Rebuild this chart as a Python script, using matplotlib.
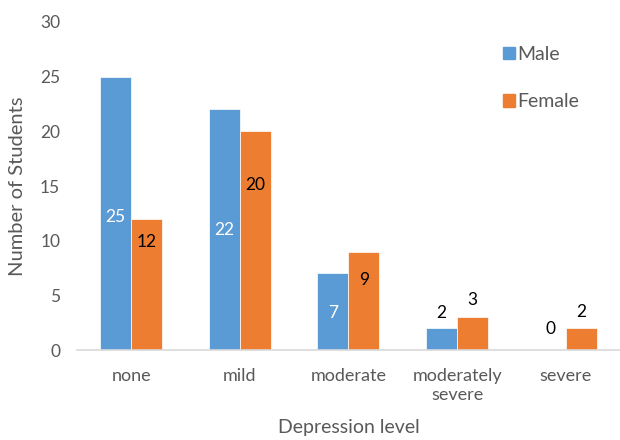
import numpy as np
import matplotlib.pyplot as plt
from matplotlib.patches import Patch

plt.rcParams['font.family'] = ['Lato', 'DejaVu Sans']

categories = ['none', 'mild', 'moderate', 'moderately\nsevere', 'severe']
male = [25, 22, 7, 2, 0]
female = [12, 20, 9, 3, 2]
# label heights as placed in the original (Excel-like manual positions)
male_label_y = [12.2, 11, 3.4, 3.4, 1.9]
female_label_y = [9.9, 15.1, 6.4, 4.6, 3.5]

blue = '#5B9BD5'
orange = '#ED7D31'
grey = '#595959'

fig = plt.figure(figsize=(6.2, 4.4), dpi=100)
ax = fig.add_axes([0.124, 0.2045, 0.876, 0.7455])

x = np.arange(len(categories))
w = 0.285
ax.bar(x - w / 2, male, w, color=blue, edgecolor='white', linewidth=0.5)
ax.bar(x + w / 2, female, w, color=orange, edgecolor='white', linewidth=0.5)

for i in range(len(categories)):
    # male labels: white inside the bar, dark when the bar is too short
    col = 'white' if male[i] >= 5 else 'black'
    ax.text(x[i] - w / 2, male_label_y[i], str(male[i]), ha='center', va='center',
            color=col, fontsize=12.5)
    ax.text(x[i] + w / 2, female_label_y[i], str(female[i]), ha='center', va='center',
            color='black', fontsize=12.5)

ax.set_xlim(-0.5, 4.5)
ax.set_ylim(0, 30)
ax.set_yticks(range(0, 31, 5))
ax.set_xticks(x)
ax.set_xticklabels(categories, fontsize=13, color=grey, linespacing=1.2)
ax.tick_params(axis='y', length=0, labelsize=12.5, labelcolor=grey, pad=12)
ax.tick_params(axis='x', length=0, pad=13)
for s in ['top', 'right', 'left']:
    ax.spines[s].set_visible(False)
ax.spines['bottom'].set_color('#D9D9D9')
ax.spines['bottom'].set_linewidth(1.2)

ax.set_ylabel('Number of Students', fontsize=14.5, color=grey, labelpad=10)
ax.set_xlabel('Depression level', fontsize=14, color=grey, labelpad=12)

handles = [Patch(color=blue), Patch(color=orange)]
fig.legend(handles, ['Male', 'Female'], loc='upper left', bbox_to_anchor=(0.783, 0.935),
           frameon=False, handlelength=0.6, handleheight=0.6, handletextpad=0.15,
           labelspacing=1.55, fontsize=14, labelcolor=grey)

fig.savefig('out.png', dpi=100)
